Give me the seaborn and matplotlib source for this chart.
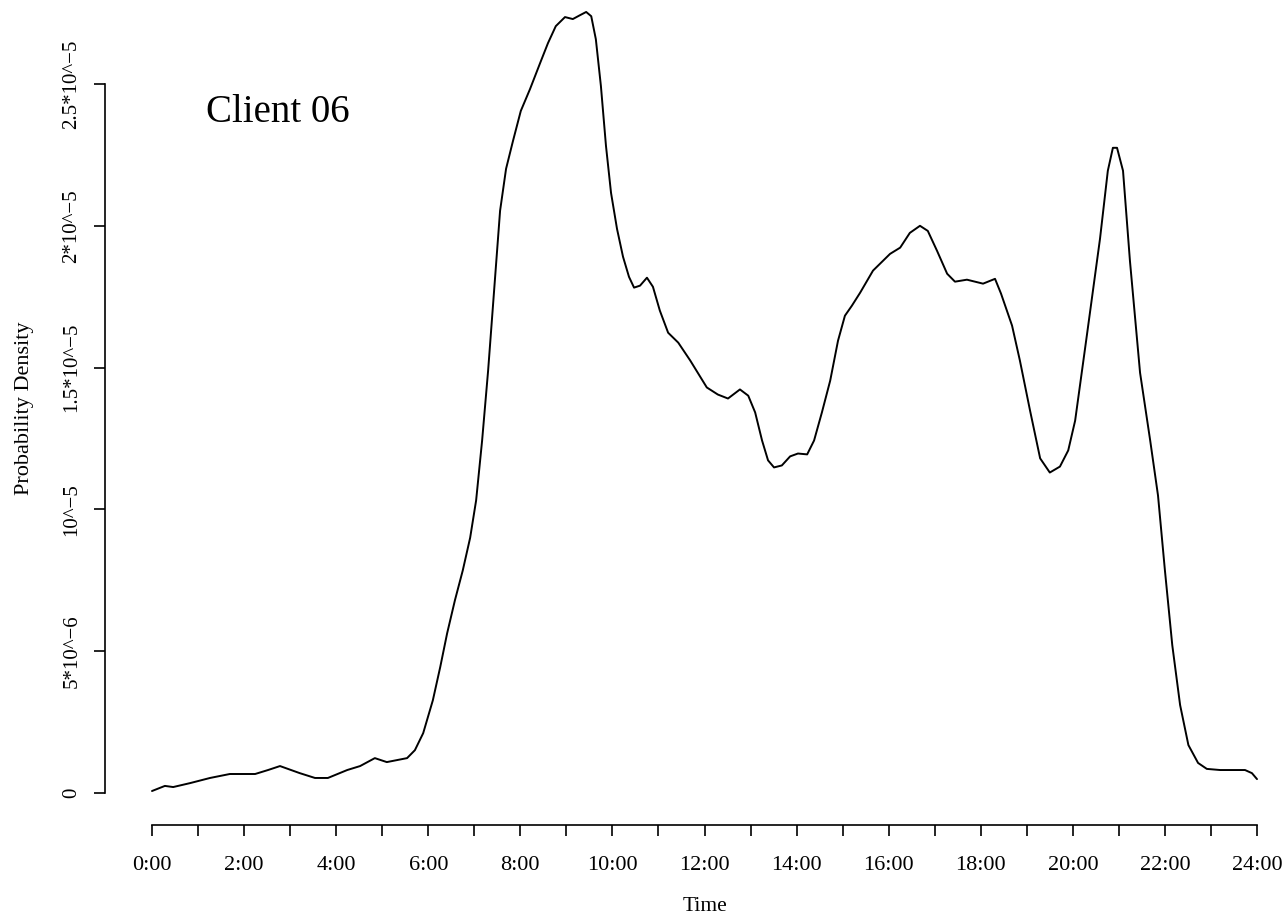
import matplotlib
matplotlib.use("Agg")
import matplotlib.pyplot as plt
import seaborn as sns
import numpy as np

# Density curve (time in hours, density in 1e-6 units)
hours = [0.00, 0.28, 0.46, 0.83, 1.26, 1.69, 2.24, 2.52, 2.78, 3.21,
         3.54, 3.82, 4.24, 4.52, 4.84, 5.10, 5.54, 5.71, 5.89, 6.10,
         6.26, 6.41, 6.58, 6.75, 6.91, 7.04, 7.17, 7.30, 7.43, 7.56,
         7.69, 7.84, 8.01, 8.21, 8.43, 8.60, 8.77, 8.97, 9.14, 9.30,
         9.43, 9.54, 9.64, 9.75, 9.86, 9.97, 10.10, 10.23, 10.36, 10.47,
         10.60, 10.75, 10.88, 11.03, 11.21, 11.43, 11.69, 12.05, 12.29, 12.51,
         12.77, 12.95, 13.10, 13.25, 13.38, 13.51, 13.68, 13.86, 14.03, 14.23,
         14.38, 14.55, 14.73, 14.90, 15.05, 15.20, 15.38, 15.66, 16.03, 16.25,
         16.46, 16.68, 16.85, 17.05, 17.27, 17.44, 17.70, 18.05, 18.31, 18.44,
         18.68, 18.85, 19.07, 19.29, 19.50, 19.72, 19.90, 20.05, 20.31, 20.59,
         20.76, 20.87, 20.96, 21.09, 21.24, 21.46, 21.68, 21.85, 22.00, 22.16,
         22.33, 22.51, 22.72, 22.91, 23.20, 23.74, 23.89, 24.00]
density_e6 = [0.07, 0.25, 0.21, 0.35, 0.53, 0.67, 0.67, 0.81, 0.95, 0.70,
              0.53, 0.53, 0.81, 0.95, 1.23, 1.09, 1.23, 1.51, 2.11, 3.27,
              4.44, 5.63, 6.80, 7.85, 9.00, 10.32, 12.43, 14.89, 17.71, 20.53,
              22.01, 22.99, 24.05, 24.82, 25.74, 26.44, 27.04, 27.36, 27.29, 27.43,
              27.54, 27.39, 26.58, 24.93, 22.82, 21.16, 19.89, 18.91, 18.20, 17.82,
              17.89, 18.17, 17.85, 17.01, 16.23, 15.88, 15.25, 14.30, 14.05, 13.91,
              14.23, 14.01, 13.42, 12.43, 11.73, 11.48, 11.55, 11.87, 11.97, 11.94,
              12.43, 13.42, 14.54, 15.95, 16.83, 17.18, 17.64, 18.42, 19.01, 19.23,
              19.75, 20.00, 19.82, 19.12, 18.31, 18.03, 18.10, 17.96, 18.13, 17.61,
              16.48, 15.25, 13.49, 11.80, 11.30, 11.51, 12.08, 13.13, 16.20, 19.54,
              21.94, 22.75, 22.75, 21.94, 18.77, 14.82, 12.43, 10.49, 7.85, 5.21,
              3.10, 1.69, 1.06, 0.85, 0.81, 0.81, 0.70, 0.49]

x_ticks = list(range(0, 25))
x_labels = [f"{h}:00" if h % 2 == 0 else "" for h in x_ticks]
y_ticks = [0, 5e-6, 1e-5, 1.5e-5, 2e-5, 2.5e-5]
y_labels = ["0", "5*10^\u22126", "10^\u22125", "1.5*10^\u22125", "2*10^\u22125", "2.5*10^\u22125"]

sns.set_style("ticks")
plt.rcParams['font.family'] = ['Liberation Serif', 'DejaVu Serif']
plt.rcParams['text.color'] = 'black'
plt.rcParams['axes.labelcolor'] = 'black'
plt.rcParams['xtick.color'] = 'black'
plt.rcParams['ytick.color'] = 'black'

W, H = 1287, 921
fig = plt.figure(figsize=(W / 100, H / 100), dpi=100)
ax = fig.add_axes([105 / W, (H - 825) / H, (W - 105) / W, 825 / H])

density = np.array(density_e6) * 1e-6
sns.lineplot(x=hours, y=density, color="black", linewidth=1.4, ax=ax)

# pixel mapping: 0h -> 152px, 24h -> 1257px ; 0 -> 793px, 2.5e-5 -> 84px
px_per_h = (1257 - 152) / 24
dens_per_px = 2.5e-5 / (793 - 84)
ax.set_xlim(-(152 - 105) / px_per_h, (W - 152) / px_per_h)
ax.set_ylim(-(825 - 793) * dens_per_px, 793 * dens_per_px)

ax.set_xticks(x_ticks)
ax.set_xticklabels(x_labels)
ax.set_yticks(y_ticks)
ax.set_yticklabels(y_labels)
ax.tick_params(axis="both", length=8, width=1.2, color="black")
ax.tick_params(axis="x", pad=14, labelsize=16)
ax.tick_params(axis="y", pad=9, labelsize=15, labelrotation=90)
for lab in ax.get_yticklabels():
    lab.set_va("center")

sns.despine(ax=ax)
ax.spines["left"].set_bounds(0, 2.5e-5)
ax.spines["bottom"].set_bounds(0, 24)
for s in ["left", "bottom"]:
    ax.spines[s].set_linewidth(1.2)
    ax.spines[s].set_color("black")

ax.set_xlabel("Time", fontsize=15.5)
ax.xaxis.set_label_coords((705 - 105) / (W - 105), (825 - 897) / 825)
ax.set_ylabel("Probability Density", fontsize=16)
ax.yaxis.set_label_coords((34 - 105) / (W - 105), (825 - 408) / 825)

ax.text((278 - 105) / (W - 105), (825 - 112) / 825, "Client 06",
        transform=ax.transAxes, fontsize=28, ha="center", va="center")

fig.savefig("out.png", dpi=100, facecolor="white")
